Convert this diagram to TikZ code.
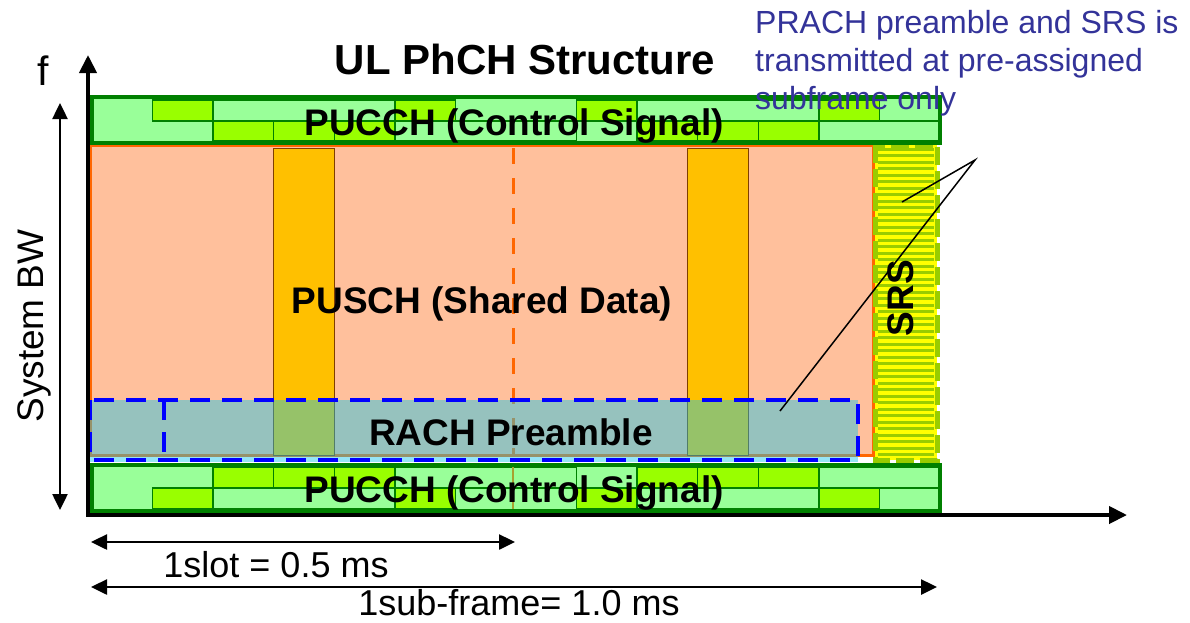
\documentclass[tikz,border=0pt]{standalone}
\usepackage{fontspec}
\setmainfont{Liberation Sans}
\usetikzlibrary{arrows.meta,positioning,calc}
\definecolor{ctrlfill}{HTML}{99FF99}
\definecolor{ctrltile}{HTML}{99FF00}
\definecolor{ctrlline}{HTML}{008000}
\definecolor{datafill}{HTML}{FFC09C}
\definecolor{dataline}{HTML}{FF6600}
\definecolor{rsfill}{HTML}{FFC000}
\definecolor{rsline}{HTML}{7F3F00}
\definecolor{rachfill}{HTML}{1BC6E7}
\definecolor{rachline}{HTML}{0000FF}
\definecolor{srsfill}{HTML}{FFFF00}
\definecolor{srsline}{HTML}{99CC00}
\definecolor{notecol}{HTML}{333399}
\definecolor{midline}{HTML}{A8A030}

\begin{document}
\begin{tikzpicture}[x=1pt,y=-1pt,
  boldtxt/.style={font=\fontsize{37}{44}\selectfont\bfseries,inner sep=0pt,anchor=base},
  normtxt/.style={font=\fontsize{37}{44}\selectfont,inner sep=0pt,anchor=base},
  tile/.style={fill=ctrltile,draw=ctrlline,line width=1.5pt},
  cell/.style={draw=ctrlline,line width=1.5pt},
  dimarrow/.style={{Triangle[length=16pt,width=15pt]}-{Triangle[length=16pt,width=15pt]},line width=2.5pt},
  rachdash/.style={rachline,line width=4pt,dash pattern=on 20pt off 12pt}]
  \useasboundingbox (0,0) rectangle (1190,622);
  \def\symw{60.57}
  % shared data region
  \draw[fill=datafill,draw=dataline,line width=3pt] (90,145) rectangle (873,455);
  \foreach \x in {273,687}{\draw[fill=rsfill,draw=rsline,line width=1pt] (\x,148) rectangle +(61,307);}
  \draw[dataline,line width=3pt,dash pattern=on 16pt off 14pt] (513,148) -- (513,455);
  % sounding reference signal
  \fill[srsfill] (875,145) rectangle (937,460);
  \foreach \y in {149,155.5,...,457}{\draw[srsline,line width=3pt] (878,\y) -- (934,\y);}
  \draw[srsline,line width=5pt,dash pattern=on 18pt off 6pt] (875,145) rectangle (937,460);
  % random access
  \fill[rachfill,opacity=0.46] (90,400) rectangle (858,462);
  \draw[rachdash] (90,400) rectangle (858,460);
  \draw[rachdash] (164,400) -- (164,460);
  % control channel, top
  \fill[ctrlfill] (92,97) rectangle (940,143);
  \foreach \a/\b in {2/5,9/12}{\draw[cell] ({92+\a*\symw},100) rectangle ({92+\b*\symw},121);}
  \foreach \a/\b in {5/8,12/14}{\draw[cell] ({92+\a*\symw},121) rectangle ({92+\b*\symw},141);}
  \foreach \i in {1,5,8,12}{\draw[tile] ({92+\i*\symw},100) rectangle +(\symw,21);}
  \foreach \i in {2,3,4,9,10,11}{\draw[tile] ({92+\i*\symw},121) rectangle +(\symw,20);}
  \draw[ctrlline,line width=4pt] (92,97) rectangle (940,143);
  % control channel, bottom
  \fill[ctrlfill] (92,465) rectangle (940,511);
  \foreach \a/\b in {2/5,9/12}{\draw[cell] ({92+\a*\symw},488) rectangle ({92+\b*\symw},509);}
  \foreach \a/\b in {5/8,12/14}{\draw[cell] ({92+\a*\symw},467) rectangle ({92+\b*\symw},488);}
  \foreach \i in {1,5,8,12}{\draw[tile] ({92+\i*\symw},488) rectangle +(\symw,21);}
  \foreach \i in {2,3,4,9,10,11}{\draw[tile] ({92+\i*\symw},467) rectangle +(\symw,21);}
  \draw[midline,line width=2pt] (513,467) -- (513,509);
  \draw[ctrlline,line width=4pt] (92,465) rectangle (940,511);
  % labels
  \node[boldtxt] (ctrltop) at (514,135) {PUCCH (Control Signal)};
  \node[boldtxt] (ctrlbot) at (514,502) {PUCCH (Control Signal)};
  \node[boldtxt] (data) at (482,313) {PUSCH (Shared Data)};
  \node[boldtxt] (rach) at (511,445) {RACH Preamble};
  \node[boldtxt,rotate=90] (srs) at (913,298) {SRS};
  \node[boldtxt,font=\fontsize{42}{50}\selectfont\bfseries] (title) at (525,74) {UL PhCH Structure};
  % axes
  \coordinate (ftop) at (88,55);
  \coordinate (origin) at (88,515);
  \coordinate (tend) at (1127,515);
  \draw[line width=4pt,{Triangle[length=18pt,width=17pt]}-{Triangle[length=18pt,width=17pt]}] (ftop) -- (origin) -- (tend);
  \node[normtxt,font=\fontsize{41}{48}\selectfont] (faxis) at (43,85) {f};
  \coordinate (bwtop) at (60,103);
  \coordinate (bwbot) at (60,510);
  \draw[dimarrow] (bwtop) -- (bwbot);
  \node[normtxt,rotate=90] (bw) at (43,326) {System BW};
  \coordinate (slotl) at (91,542);
  \coordinate (slotr) at (515,542);
  \coordinate (framel) at (91,587);
  \coordinate (framer) at (937,587);
  \draw[dimarrow] (slotl) -- (slotr);
  \draw[dimarrow] (framel) -- (framer);
  \node[normtxt,font=\fontsize{36}{44}\selectfont] (slot) at (276,577) {1slot = 0.5 ms};
  \node[normtxt,font=\fontsize{36}{44}\selectfont] (frame) at (519,615) {1sub-frame= 1.0 ms};
  % note with pointers
  \coordinate (fork) at (975,160);
  \coordinate (srsend) at (902,202);
  \coordinate (rachend) at (780,411);
  \draw[line width=1.5pt] (srsend) -- (fork) -- (rachend);
  \node[text=notecol,font=\fontsize{32}{38}\selectfont,align=left,anchor=north west,inner sep=0pt] (remark) at (755,10) {PRACH preamble and SRS is\\transmitted at pre-assigned\\subframe only};
\end{tikzpicture}
\end{document}
